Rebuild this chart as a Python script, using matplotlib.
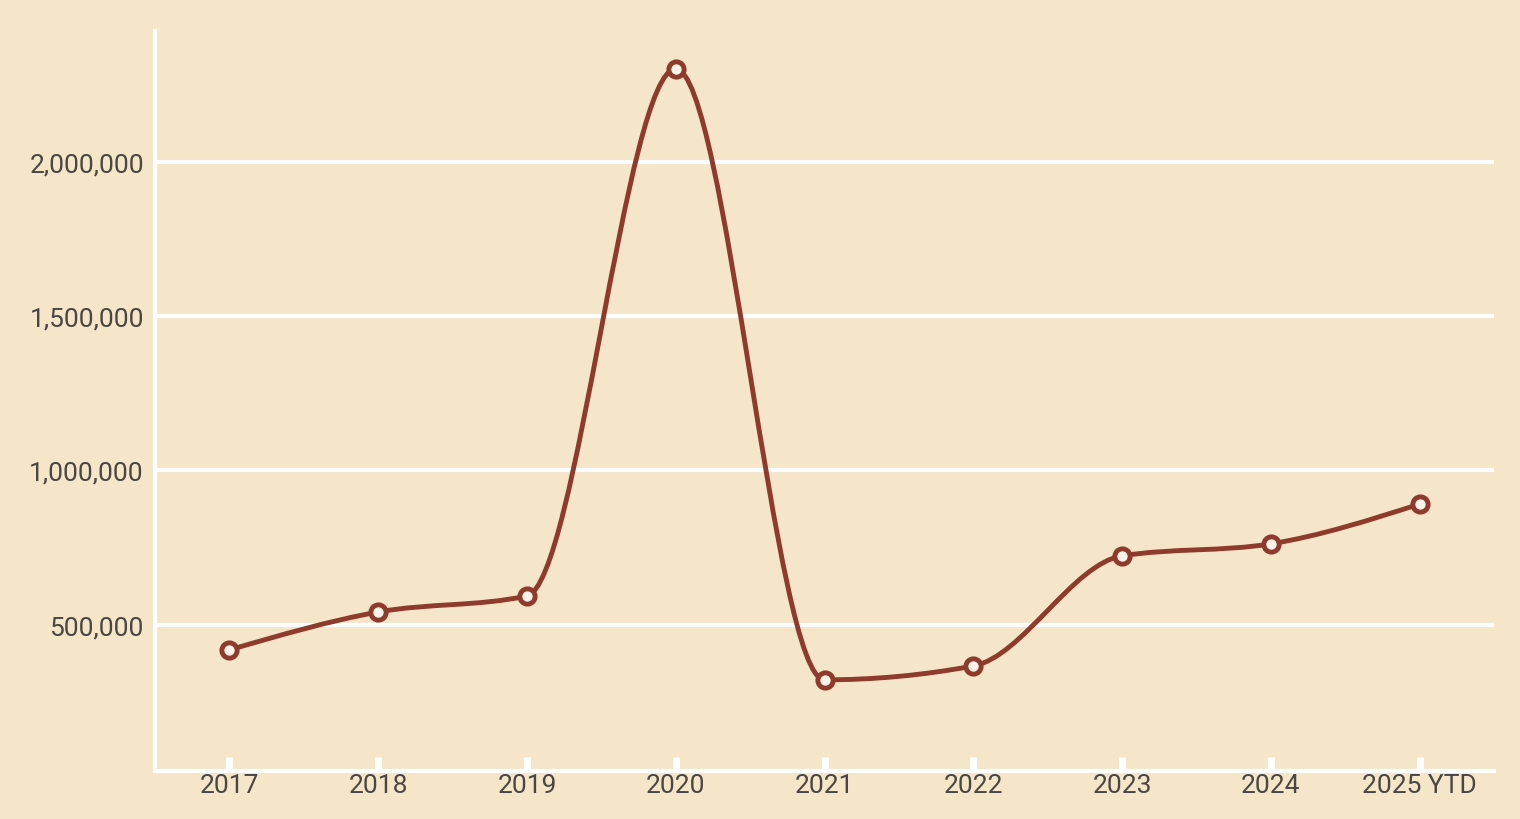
import matplotlib
matplotlib.use("Agg")
import matplotlib.pyplot as plt
from matplotlib.path import Path
from matplotlib.patches import PathPatch
from matplotlib.ticker import FuncFormatter
import numpy as np

years = ["2017", "2018", "2019", "2020", "2021", "2022", "2023", "2024", "2025 YTD"]
values = [418000, 541000, 593000, 2302000, 321000, 366000, 723000, 762000, 891000]

bg = "#F5E5C9"
line_col = "#8E3A2C"
text_col = "#4A4641"


def monotone_slopes(x, y):
    # same rule as d3.curveMonotoneX
    n = len(x)
    h = np.diff(x)
    s = np.diff(y) / h
    t = np.zeros(n)
    for i in range(1, n - 1):
        p = (s[i - 1] * h[i] + s[i] * h[i - 1]) / (h[i - 1] + h[i])
        t[i] = (np.sign(s[i - 1]) + np.sign(s[i])) * min(abs(s[i - 1]), abs(s[i]), 0.5 * abs(p))
    t[0] = (3 * s[0] - t[1]) / 2
    t[-1] = (3 * s[-1] - t[-2]) / 2
    return t


x = np.arange(len(years), dtype=float)
y = np.array(values, dtype=float)
t = monotone_slopes(x, y)

verts = [(x[0], y[0])]
codes = [Path.MOVETO]
for i in range(len(x) - 1):
    dx = x[i + 1] - x[i]
    verts += [(x[i] + dx / 3, y[i] + dx * t[i] / 3),
              (x[i + 1] - dx / 3, y[i + 1] - dx * t[i + 1] / 3),
              (x[i + 1], y[i + 1])]
    codes += [Path.CURVE4] * 3

plt.rcParams['font.family'] = ['Roboto', 'DejaVu Sans']

fig = plt.figure(figsize=(15.2, 8.2), dpi=100, facecolor=bg)
ax = fig.add_axes([155 / 1520, 1 - 771.5 / 820, (1494 - 155) / 1520, (771.5 - 32) / 820])
ax.set_facecolor(bg)

ax.add_patch(PathPatch(Path(verts, codes), facecolor="none", edgecolor=line_col,
                       lw=3.5, zorder=3, capstyle="round"))
ax.plot(x, y, "o", ms=11, mfc="#FBF3E8", mec=line_col, mew=3.5, zorder=4, ls="none")

ax.set_xlim(-0.5, len(years) - 0.5)
ax.set_ylim(27000, 2425000)

ax.set_yticks([500000, 1000000, 1500000, 2000000])
ax.yaxis.set_major_formatter(FuncFormatter(lambda v, p: f"{int(v):,}"))
ax.grid(axis="y", color="white", lw=3)
ax.set_axisbelow(True)

ax.set_xticks(x)
ax.set_xticklabels(years)
ax.tick_params(axis="x", direction="in", length=10, width=5, color="white",
               labelsize=19, labelcolor=text_col, pad=2)
ax.tick_params(axis="y", length=0, labelsize=19, labelcolor=text_col, pad=8)

for side in ["top", "right"]:
    ax.spines[side].set_visible(False)
for side in ["left", "bottom"]:
    ax.spines[side].set_color("white")
    ax.spines[side].set_linewidth(3)

fig.savefig("out.png", dpi=100, facecolor=bg)
